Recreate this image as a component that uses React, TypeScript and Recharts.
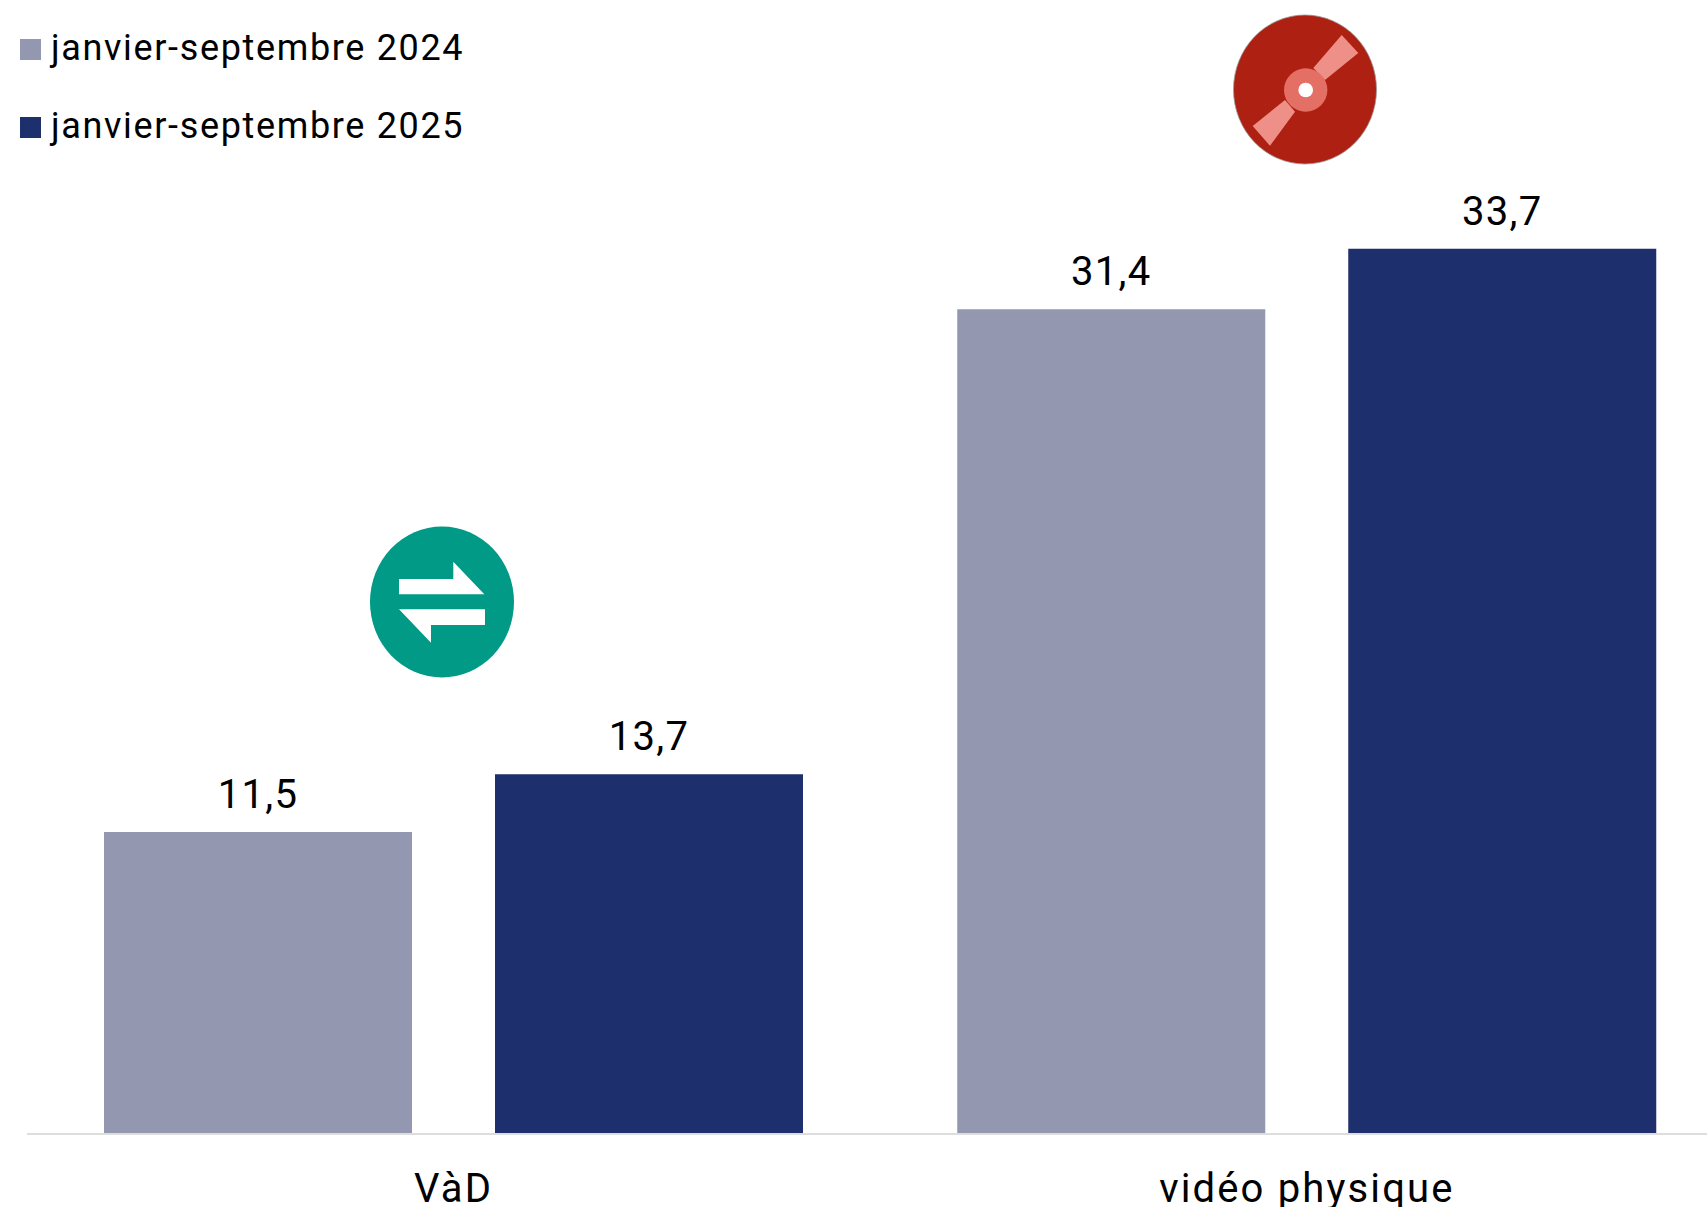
import React from "react";
import { BarChart, Bar, XAxis, YAxis, LabelList, Legend } from "recharts";

const categories = ["VàD", "vidéo physique"];
const series2024 = [11.5, 31.4];
const series2025 = [13.7, 33.7];
const name2024 = "janvier-septembre 2024";
const name2025 = "janvier-septembre 2025";
const rows = categories.map((c, i) => ({ cat: c, a: series2024[i], b: series2025[i] }));

const GREY = "#9397B0";
const NAVY = "#1E2F6E";
const FONT = "Roboto, sans-serif";
const fmt = (v: any) => String(v).replace(".", ",");
const labelStyle = { fontFamily: FONT, fontSize: 40, fill: "#000", letterSpacing: 1.3 };

const LegendBox = () => (
  <div style={{ fontFamily: FONT, fontSize: 36, color: "#000", lineHeight: "42px", letterSpacing: 1.65 }}>
    {[[name2024, GREY], [name2025, NAVY]].map(([n, c], i) => (
      <div key={n} style={{ position: "absolute", left: 20, top: 27 + i * 78, height: 42, whiteSpace: "nowrap" }}>
        <span style={{ position: "absolute", left: 0, top: 12, width: 21, height: 21, background: c }} />
        <span style={{ position: "absolute", left: 31 }}>{n}</span>
      </div>
    ))}
  </div>
);

const Disc = () => (
  <svg style={{ position: "absolute", left: 1230, top: 12 }} width="150" height="155" viewBox="0 0 150 155">
    <ellipse cx="75" cy="77.5" rx="71.5" ry="74.5" fill="#AE2012" stroke="#999" strokeWidth="0.8" />
    <polygon points="111.7,23 128.3,41 95,68 83.3,56" fill="#EF9088" />
    <polygon points="22.7,114 40,133.7 65,99.7 55,88" fill="#EF9088" />
    <circle cx="75.7" cy="78" r="21.7" fill="#E46F65" />
    <circle cx="75.7" cy="78" r="7.3" fill="#fff" />
  </svg>
);

const Swap = () => (
  <svg style={{ position: "absolute", left: 365, top: 522 }} width="155" height="160" viewBox="0 0 155 160">
    <ellipse cx="77" cy="80" rx="72" ry="75.5" fill="#009A87" />
    <polygon points="34,57 88.3,57 88.3,39.7 119.3,72.3 34,72.3" fill="#fff" />
    <polygon points="34,87.3 120,87.3 120,103 66,103 66,120.7" fill="#fff" />
  </svg>
);

export default function App() {
  return (
    <div style={{ position: "absolute", left: 0, top: 0, width: 1707, height: 1207, overflow: "hidden", background: "#fff" }}>
      <BarChart
        width={1733.5}
        height={1207}
        data={rows}
        margin={{ top: 0, right: 0, bottom: 0, left: 27 }}
        barGap={83}
        barCategoryGap={77}
      >
        <XAxis
          dataKey="cat"
          height={73}
          tickLine={false}
          axisLine={{ stroke: "#DDDDDD", strokeWidth: 2 }}
          tick={{ fontFamily: FONT, fontSize: 40, fill: "#000", letterSpacing: 2.15 }}
          tickMargin={34}
          interval={0}
        />
        <YAxis hide domain={[0, 43.17]} />
        <Legend content={<LegendBox />} wrapperStyle={{ left: 0, top: 0, width: 0, height: 0 }} />
        <Bar dataKey="a" name={name2024} fill={GREY} barSize={308} isAnimationActive={false}>
          <LabelList dataKey="a" position="top" offset={24} formatter={fmt} style={labelStyle} />
        </Bar>
        <Bar dataKey="b" name={name2025} fill={NAVY} barSize={308} isAnimationActive={false}>
          <LabelList dataKey="b" position="top" offset={24} formatter={fmt} style={labelStyle} />
        </Bar>
      </BarChart>
      <Disc />
      <Swap />
    </div>
  );
}
